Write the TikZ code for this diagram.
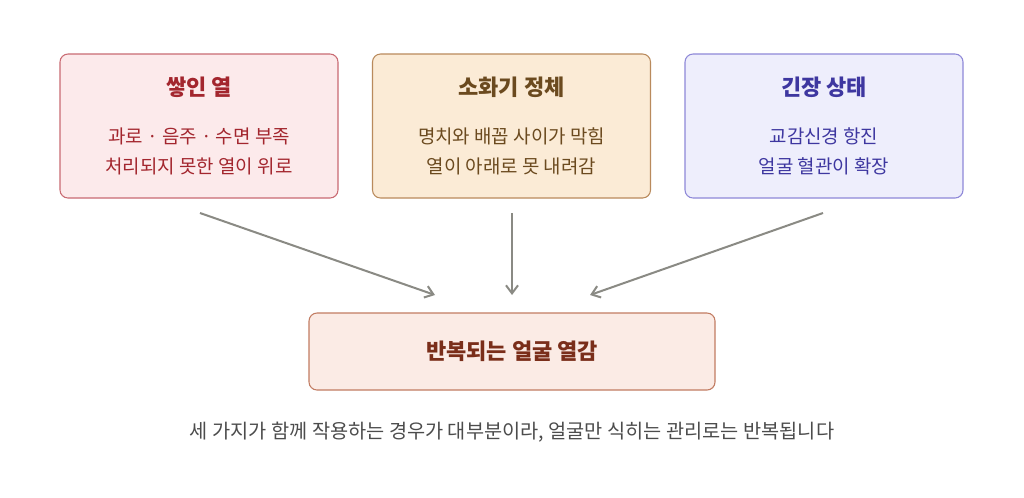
\documentclass[tikz,border=0pt]{standalone}
\usepackage{fontspec}
\setmainfont{Noto Sans CJK KR}
\usetikzlibrary{arrows.meta}
\definecolor{redfill}{HTML}{FCEAEB}\definecolor{reddraw}{HTML}{C96A72}\definecolor{redtext}{HTML}{A3262E}
\definecolor{orgfill}{HTML}{FBEBD6}\definecolor{orgdraw}{HTML}{B98A5C}\definecolor{orgtext}{HTML}{6B4A1F}
\definecolor{blufill}{HTML}{EEEEFC}\definecolor{bludraw}{HTML}{8E88D8}\definecolor{blutext}{HTML}{3E37A0}
\definecolor{resfill}{HTML}{FBEBE5}\definecolor{resdraw}{HTML}{C27C62}\definecolor{restext}{HTML}{7A2E1A}
\definecolor{arrgray}{HTML}{8A8A84}
\newcommand{\boxtitle}[1]{{\fontsize{16.5}{20}\selectfont\bfseries #1}\\[13pt]}
\begin{document}
\begin{tikzpicture}[x=0.75pt,y=-0.75pt,inner sep=0pt,outer sep=0pt,
causebox/.style={draw,rounded corners=6pt,minimum width=208.5pt,minimum height=108pt,line width=0.8pt,align=center,font=\fontsize{14.2}{22.5}\selectfont},
cause/.style={draw=arrgray,line width=1.5pt,-{Straight Barb[length=6pt,width=9pt]}}]
\useasboundingbox[fill=white] (0,0) rectangle (1024,497);
\node[causebox,fill=redfill,draw=reddraw,text=redtext] (heat) at (199,126) {\boxtitle{쌓인 열}과로 · 음주 · 수면 부족\\처리되지 못한 열이 위로};
\node[causebox,fill=orgfill,draw=orgdraw,text=orgtext] (block) at (511.5,126) {\boxtitle{소화기 정체}명치와 배꼽 사이가 막힘\\열이 아래로 못 내려감};
\node[causebox,fill=blufill,draw=bludraw,text=blutext] (tension) at (824,126) {\boxtitle{긴장 상태}교감신경 항진\\얼굴 혈관이 확장};
\node[draw=resdraw,fill=resfill,text=restext,rounded corners=6pt,minimum width=304.5pt,minimum height=57.75pt,line width=0.8pt,font=\fontsize{16.5}{20}\selectfont\bfseries] (flush) at (512,351.5) {반복되는 얼굴 열감};
\node[text=black!70,font=\fontsize{14.8}{18}\selectfont] (note) at (512,432) {세 가지가 함께 작용하는 경우가 대부분이라, 얼굴만 식히는 관리로는 반복됩니다};
\coordinate (h1) at (200,213); \coordinate (h2) at (435,295);
\coordinate (b1) at (512,213); \coordinate (b2) at (512,295);
\coordinate (t1) at (823,213); \coordinate (t2) at (590,295);
\draw[cause] (h1) -- (h2);
\draw[cause] (b1) -- (b2);
\draw[cause] (t1) -- (t2);
\end{tikzpicture}
\end{document}
